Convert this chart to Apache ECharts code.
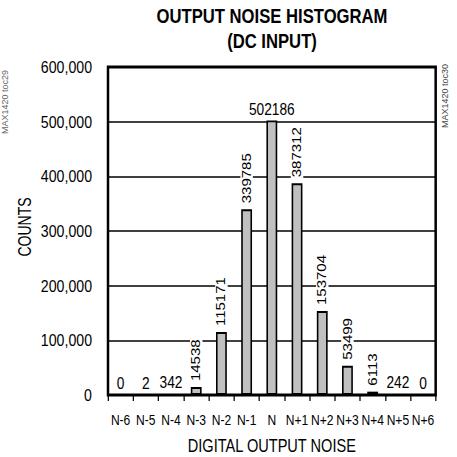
<!DOCTYPE html>
<html><head><meta charset="utf-8">
<script src="https://cdn.jsdelivr.net/npm/echarts@6/dist/echarts.min.js"></script>
<style>
html,body{margin:0;padding:0;background:#fff;overflow:hidden}
#wrap{width:457px;height:457px;overflow:hidden;position:relative}
#c{width:548.4px;height:457px;transform:scaleX(0.8333333);transform-origin:0 0;position:absolute;left:0;top:0}
</style>
</head><body><div id="wrap"><div id="c"></div></div>
<script>
const categories = ['N-6','N-5','N-4','N-3','N-2','N-1','N','N+1','N+2','N+3','N+4','N+5','N+6'];
const counts = [0, 2, 342, 14538, 115171, 339785, 502186, 387312, 153704, 53499, 6113, 242, 0];
const yTicks = [0, 100000, 200000, 300000, 400000, 500000, 600000];
const horizontalLabelIdx = [0, 1, 2, 6, 11, 12];

// text is drawn in a horizontally stretched layout, then squeezed by CSS to a condensed look
const K = 1.2;
const FONT = '"Liberation Sans", Arial, Helvetica, sans-serif';
const chart = echarts.init(document.getElementById('c'), null, {renderer: 'svg'});
const data = counts.map((v, i) => {
  const horiz = horizontalLabelIdx.indexOf(i) >= 0;
  return {
    value: v,
    label: horiz ? {rotate: 0, fontSize: 16.5, align: 'center', verticalAlign: 'bottom', distance: 3}
                 : {rotate: 90, fontSize: 15, align: 'left', verticalAlign: 'middle', distance: 4}
  };
});
chart.setOption({
  animation: false,
  title: {
    text: 'OUTPUT NOISE HISTOGRAM\n(DC INPUT)',
    left: 272 * K, top: 3, textAlign: 'center', padding: 0,
    textStyle: {fontFamily: FONT, fontWeight: 'bold', fontSize: 20, lineHeight: 25, color: '#000'}
  },
  grid: {left: 108 * K, right: 21 * K, top: 67, bottom: 62, show: true, borderColor: '#000', borderWidth: 3,
    backgroundColor: 'transparent', containLabel: false, outerBoundsMode: 'none'},
  xAxis: {
    type: 'category', data: categories,
    name: 'DIGITAL OUTPUT NOISE', nameLocation: 'middle', nameGap: 41,
    nameTextStyle: {fontFamily: FONT, fontSize: 17.5, color: '#000'},
    axisLine: {show: false},
    axisTick: {show: true, length: 6, lineStyle: {color: '#000', width: 1.5}},
    axisLabel: {fontFamily: FONT, fontSize: 14.5, color: '#000', margin: 18, interval: 0},
    splitLine: {show: false}
  },
  yAxis: {
    type: 'value', min: yTicks[0], max: yTicks[yTicks.length - 1], interval: yTicks[1] - yTicks[0],
    axisLine: {show: false}, axisTick: {show: false},
    axisLabel: {fontFamily: FONT, fontSize: 17, color: '#000', margin: 16 * K,
      formatter: v => v.toLocaleString('en-US')},
    splitLine: {show: true, lineStyle: {color: '#000', width: 1.5}}
  },
  series: [{
    type: 'bar', data: data, barWidth: 13,
    itemStyle: {color: '#c0c0c0', borderColor: '#000', borderWidth: 1.9},
    label: {show: true, position: 'top', fontFamily: FONT, color: '#000',
      backgroundColor: '#fff', padding: [0, 2], formatter: p => String(p.value)},
    z: 3
  }],
  graphic: [
    {type: 'text', x: 24 * K, y: 227, rotation: Math.PI / 2, scaleX: 0.78, scaleY: K,
      style: {text: 'COUNTS', fontFamily: FONT, fontSize: 18, fill: '#000', align: 'center', verticalAlign: 'middle'}},
    {type: 'text', x: 445 * K, y: 128, rotation: Math.PI / 2, scaleY: K,
      style: {text: 'MAX1420 toc30', fontFamily: FONT, fontSize: 9, fill: '#444', align: 'left', verticalAlign: 'middle'}},
    {type: 'text', x: 5 * K, y: 134, rotation: Math.PI / 2, scaleY: K,
      style: {text: 'MAX1420 toc29', fontFamily: FONT, fontSize: 9, fill: '#666', align: 'left', verticalAlign: 'middle'}}
  ]
});
</script></body></html>
